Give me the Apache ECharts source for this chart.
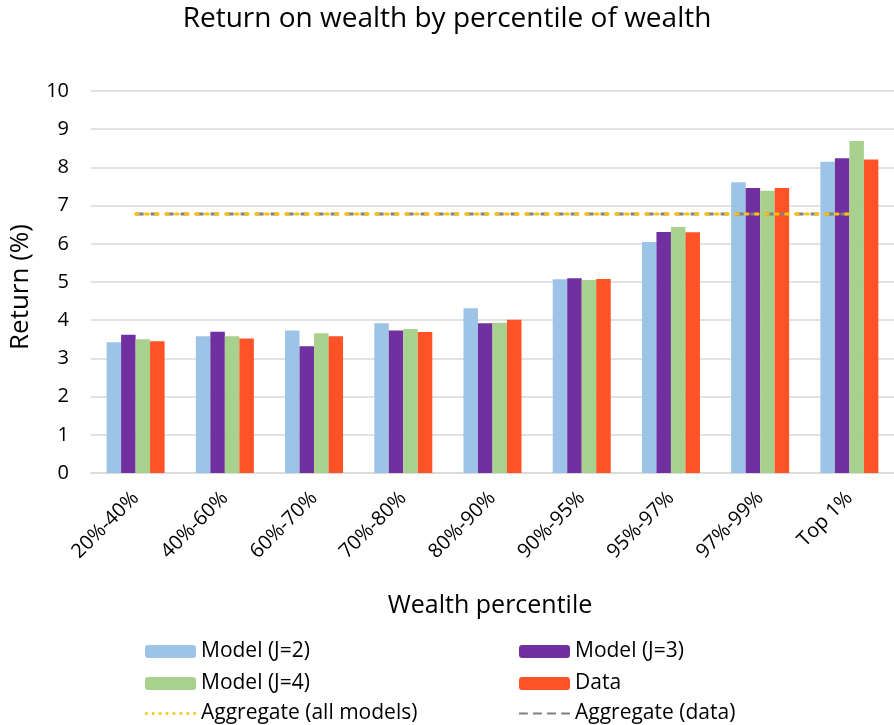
<!DOCTYPE html>
<html><head><meta charset="utf-8">
<script src="https://cdn.jsdelivr.net/npm/echarts@6/dist/echarts.min.js"></script>
<style>html,body{margin:0;padding:0;background:#fff}#c{width:894px;height:725px}</style>
</head><body><div id="c"></div>
<script>
const categories = ['20%-40%','40%-60%','60%-70%','70%-80%','80%-90%','90%-95%','95%-97%','97%-99%','Top 1%'];
const modelJ2 = [3.42,3.58,3.73,3.92,4.31,5.07,6.05,7.61,8.15];
const modelJ3 = [3.62,3.70,3.32,3.73,3.92,5.10,6.31,7.46,8.24];
const modelJ4 = [3.50,3.58,3.66,3.77,3.93,5.05,6.44,7.39,8.69];
const dataVals = [3.45,3.52,3.58,3.69,4.01,5.08,6.30,7.46,8.21];
const aggModels = [6.78,6.78,6.78,6.78,6.78,6.78,6.78,6.78,6.78];
const aggData = [6.78,6.78,6.78,6.78,6.78,6.78,6.78,6.78,6.78];

const FONT = '"Open Sans", "Noto Sans", sans-serif';
const chart = echarts.init(document.getElementById('c'));
const barS = (name, data, color) => ({
  name, type: 'bar', data, barGap: '0%', barCategoryGap: '35%',
  itemStyle: { color }, z: 2
});
const dotIcon = 'path://M0,0h2.6v2.6h-2.6z M6.9,0h2.6v2.6h-2.6z M13.8,0h2.6v2.6h-2.6z M20.7,0h2.6v2.6h-2.6z M27.6,0h2.6v2.6h-2.6z M34.5,0h2.6v2.6h-2.6z M41.4,0h2.6v2.6h-2.6z M48.3,0h2.6v2.6h-2.6z';
const dashIcon = 'path://M0,0h9v2h-9z M14.3,0h9v2h-9z M28.6,0h9v2h-9z M42.9,0h9v2h-9z';
const legendText = { fontSize: 21, color: '#000', fontFamily: FONT };
const leg = (name, left, top, icon, h) => ({
  left, top, itemWidth: 51, itemHeight: h, itemGap: 5,
  textStyle: legendText,
  data: [icon ? { name, icon } : name]
});
chart.setOption({
  animation: false,
  textStyle: { fontFamily: FONT },
  title: { text: 'Return on wealth by percentile of wealth', left: 'center', top: 0,
    textStyle: { fontFamily: FONT, fontSize: 28, fontWeight: 'normal', color: '#000' } },
  grid: { left: 91, right: -7, top: 91, bottom: 252, containLabel: false },
  xAxis: {
    type: 'category', data: categories, boundaryGap: true,
    axisLine: { lineStyle: { color: '#d9d9d9', width: 1.5 } },
    axisTick: { show: false },
    axisLabel: { rotate: 45, fontSize: 20, color: '#000', margin: 22, fontFamily: FONT, interval: 0 },
    name: 'Wealth percentile', nameLocation: 'middle', nameGap: 120,
    nameTextStyle: { fontSize: 25, color: '#000', fontFamily: FONT, padding: [0, 0, 0, -5] }
  },
  yAxis: {
    type: 'value', min: 0, max: 10, interval: 1,
    axisLine: { show: false }, axisTick: { show: false },
    splitLine: { lineStyle: { color: '#d9d9d9', width: 1.5 } },
    axisLabel: { fontSize: 20, color: '#000', margin: 22, fontFamily: FONT }
  },
  graphic: [{
    type: 'text', left: 8, top: 224, rotation: Math.PI / 2,
    style: { text: 'Return (%)', fontSize: 26, fill: '#000', fontFamily: FONT }
  }],
  legend: [
    leg('Model (J=2)', 140, 636, null, 13),
    leg('Model (J=3)', 514, 636, null, 13),
    leg('Model (J=4)', 140, 668, null, 13),
    leg('Data', 514, 668, null, 13),
    leg('Aggregate (all models)', 140, 698, dotIcon, 3),
    leg('Aggregate (data)', 514, 698, dashIcon, 2)
  ],
  series: [
    barS('Model (J=2)', modelJ2, '#9DC3E6'),
    barS('Model (J=3)', modelJ3, '#7030A0'),
    barS('Model (J=4)', modelJ4, '#A9D18E'),
    barS('Data', dataVals, '#FF5226'),
    { name: 'Aggregate (data)', type: 'line', data: aggData, symbol: 'none', z: 5,
      itemStyle: { color: '#808080' },
      lineStyle: { color: '#808080', width: 3, type: [8, 7] } },
    { name: 'Aggregate (all models)', type: 'line', data: aggModels, symbol: 'none', z: 6,
      itemStyle: { color: '#FFC000' },
      lineStyle: { color: '#FFC000', width: 3, type: [2.5, 7.5], cap: 'round' } }
  ]
});
</script></body></html>
